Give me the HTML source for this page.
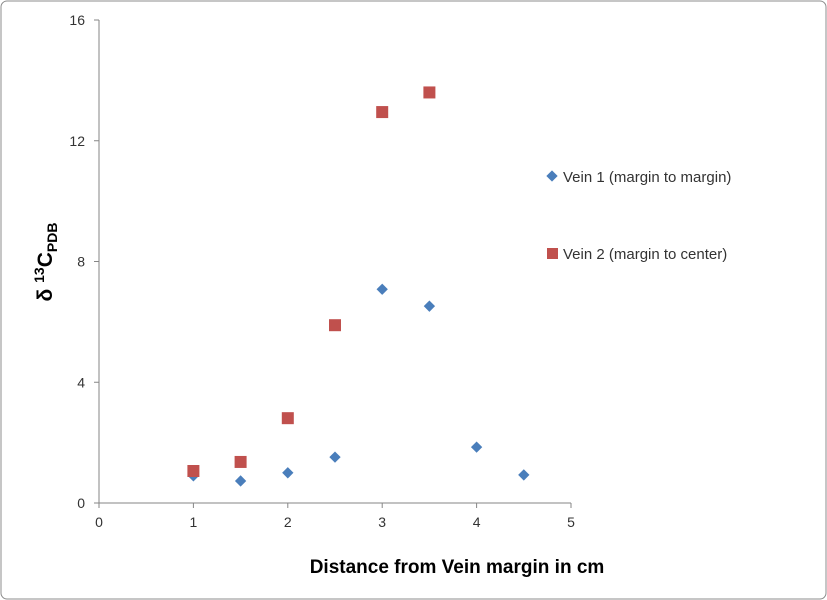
<!DOCTYPE html>
<html><head><meta charset="utf-8"><style>
html,body{margin:0;padding:0;background:#fff;}
svg{display:block;font-family:"Liberation Sans",sans-serif;}
</style></head><body>
<svg id="chart" width="827" height="600">
<rect x="1" y="1" width="825" height="598" rx="6" fill="#fff" stroke="#8c8c8c"/>
<g id="axes"></g>
<g id="marks"></g>
<text x="457" y="573" text-anchor="middle" font-size="19" font-weight="bold" fill="#000">Distance from Vein margin in cm</text>
<text transform="translate(52,262) rotate(-90)" text-anchor="middle" font-size="21" font-weight="bold" fill="#000">δ <tspan font-size="14" dy="-8">13</tspan><tspan dy="8">C</tspan><tspan font-size="14" dy="5">PDB</tspan></text>
<g>
<rect x="548" y="172" width="8" height="8" fill="#4a7ebb" transform="rotate(45 552 176)"/>
<text x="563" y="182" font-size="15" fill="#333">Vein 1 (margin to margin)</text>
<rect x="547" y="248" width="11" height="11" fill="#c0504d"/>
<text x="563" y="259" font-size="15" fill="#333">Vein 2 (margin to center)</text>
</g>
</svg>
<script>
const xTicks=[0,1,2,3,4,5];
const yTicks=[0,4,8,12,16];
const vein1X=[1,1.5,2,2.5,3,3.5,4,4.5];
const vein1Y=[0.9,0.73,1.0,1.52,7.08,6.52,1.85,0.93];
const vein2X=[1,1.5,2,2.5,3,3.5];
const vein2Y=[1.06,1.36,2.81,5.89,12.95,13.6];
const NS='http://www.w3.org/2000/svg';
const X0=99,X1=571,Y0=503,Y1=20;
const sx=v=>X0+(X1-X0)*v/5, sy=v=>Y0-(Y0-Y1)*v/16;
const axes=document.getElementById('axes'), marks=document.getElementById('marks');
function mk(tag,attrs,parent){const e=document.createElementNS(NS,tag);for(const k in attrs)e.setAttribute(k,attrs[k]);parent.appendChild(e);return e;}
let l=mk('line',{x1:X0,y1:Y1,x2:X0,y2:Y0,stroke:'#868686'},axes);

l=mk('line',{x1:X0,y1:Y0,x2:X1,y2:Y0,stroke:'#868686'},axes);

xTicks.forEach(t=>{
  const x=sx(t);
  const tk=mk('line',{x1:x,y1:Y0,x2:x,y2:Y0+5,stroke:'#868686'},axes);
  
  const tx=mk('text',{x:x,y:Y0+24,'text-anchor':'middle','font-size':14,fill:'#333'},axes);
  tx.textContent=t;
  
});
yTicks.forEach(t=>{
  const y=sy(t);
  const tk=mk('line',{x1:X0-5,y1:y,x2:X0,y2:y,stroke:'#868686'},axes);
  
  const tx=mk('text',{x:X0-14,y:y+5,'text-anchor':'end','font-size':14,fill:'#333'},axes);
  tx.textContent=t;
  
});
vein1X.forEach((v,i)=>{
  const cx=sx(v),cy=sy(vein1Y[i]);
  const p=mk('rect',{x:cx-4,y:cy-4,width:8,height:8,fill:'#4a7ebb',transform:`rotate(45 ${cx} ${cy})`},marks);
  
});
vein2X.forEach((v,i)=>{
  const cx=sx(v),cy=sy(vein2Y[i]);
  const p=mk('rect',{x:cx-6,y:cy-6,width:12,height:12,fill:'#c0504d'},marks);
  
});
</script>
</body></html>
